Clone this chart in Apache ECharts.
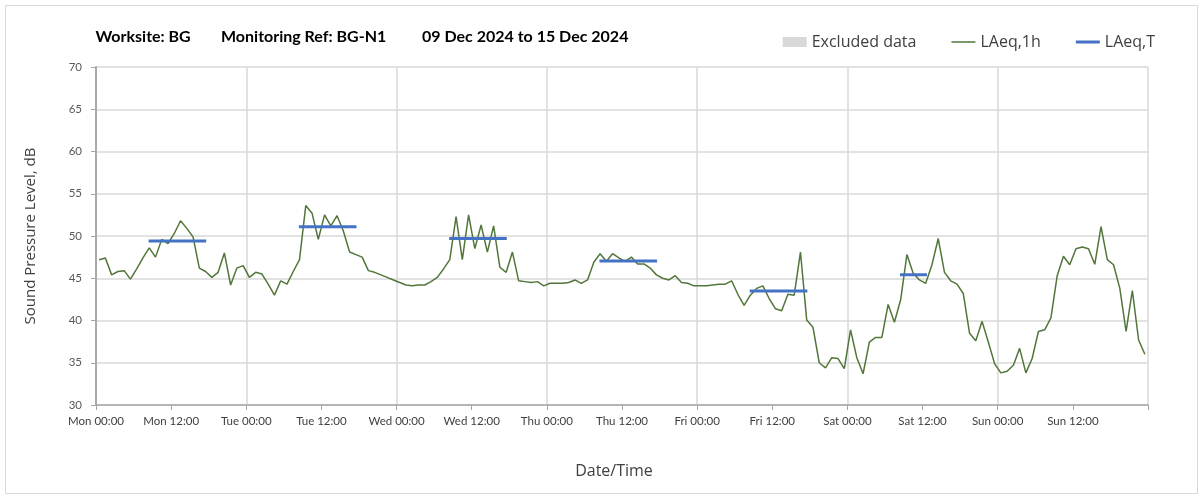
<!DOCTYPE html>
<html>
<head>
<meta charset="utf-8">
<script src="https://cdn.jsdelivr.net/npm/echarts@6/dist/echarts.min.js"></script>
<style>
html,body{margin:0;padding:0;background:#fff;}
#c{width:1203px;height:499px;}
</style>
</head>
<body>
<div id="c"></div>
<script>
// Hourly LAeq,1h values (dB), one array per day, hour 00..23
const MON = [47.2,47.4,45.4,45.8,45.9,44.9,46.1,47.4,48.6,47.5,49.6,49.1,50.3,51.8,50.9,49.9,46.2,45.8,45.1,45.7,48.0,44.2,46.2,46.5];
const TUE = [45.1,45.7,45.5,44.3,43.0,44.7,44.3,45.8,47.2,53.6,52.7,49.6,52.5,51.2,52.4,50.6,48.1,47.8,47.5,45.9,45.7,45.4,45.1,44.8];
const WED = [44.5,44.2,44.1,44.2,44.2,44.6,45.1,46.1,47.2,52.3,47.2,52.5,48.5,51.3,48.1,51.2,46.3,45.7,48.1,44.7,44.6,44.5,44.6,44.1];
const THU = [44.4,44.4,44.4,44.5,44.8,44.4,44.8,46.9,47.9,47.0,47.9,47.4,47.0,47.5,46.7,46.7,46.2,45.4,45.0,44.8,45.3,44.5,44.4,44.1];
const FRI = [44.1,44.1,44.2,44.3,44.3,44.7,43.1,41.8,43.0,43.8,44.1,42.6,41.4,41.15,43.1,43.0,48.1,40.05,39.2,35.0,34.4,35.6,35.5,34.3];
const SAT = [38.9,35.6,33.7,37.45,38.0,38.0,41.9,39.8,42.45,47.8,45.6,44.8,44.4,46.6,49.7,45.7,44.7,44.3,43.2,38.5,37.6,39.9,37.45,34.9];
const SUN = [33.8,34.0,34.7,36.7,33.8,35.5,38.7,38.9,40.3,45.3,47.6,46.6,48.5,48.7,48.5,46.65,51.1,47.2,46.6,43.8,38.7,43.55,37.7,36.0];

// LAeq,T periods: [start hour of week, end hour of week, level dB]
const LAEQ_T = [
  [8.4, 17.6, 49.4],
  [32.4, 41.6, 51.1],
  [56.4, 65.6, 49.7],
  [80.4, 89.6, 47.05],
  [104.4, 113.6, 43.5],
  [128.4, 132.7, 45.4]
];

// X tick labels every 12 h
const X_LABELS = ['Mon 00:00','Mon 12:00','Tue 00:00','Tue 12:00','Wed 00:00','Wed 12:00','Thu 00:00','Thu 12:00','Fri 00:00','Fri 12:00','Sat 00:00','Sat 12:00','Sun 00:00','Sun 12:00',''];

// Title parts
const TITLE_PARTS = ['Worksite: BG', 'Monitoring Ref: BG-N1', '09 Dec 2024 to 15 Dec 2024'];

const hourly = [].concat(MON, TUE, WED, THU, FRI, SAT, SUN);
const lineData = hourly.map((v, i) => [i + 0.5, v]);

const FONT = 'Lato, "Open Sans", sans-serif';
const FONT2 = '"Open Sans", Lato, sans-serif';
const GREEN = '#52763a';
const BLUE = '#4472c4';

// layout: left x of each title part (pixels)
const titleX = [95.5, 221, 422];
const titleGraphics = TITLE_PARTS.map((w, i) => ({
  type: 'text', left: titleX[i], top: 28.5,
  style: { text: w, font: 'bold 16px ' + FONT, fill: '#000' }
}));

const series = [
  {
    name: 'Excluded data', type: 'bar', data: [], xAxisIndex: 0, yAxisIndex: 0,
    itemStyle: { color: '#d9d9d9' }
  },
  {
    name: 'LAeq,1h', type: 'line', data: lineData, xAxisIndex: 0, yAxisIndex: 0,
    symbol: 'none', showSymbol: false, z: 3,
    lineStyle: { color: GREEN, width: 1.5 }, itemStyle: { color: GREEN }
  }
];
LAEQ_T.forEach(p => {
  series.push({
    name: 'LAeq,T', type: 'line', xAxisIndex: 0, yAxisIndex: 0,
    data: [[p[0], p[2]], [p[1], p[2]]],
    symbol: 'none', showSymbol: false, z: 4,
    lineStyle: { color: BLUE, width: 3 }, itemStyle: { color: BLUE }
  });
});

const chart = echarts.init(document.getElementById('c'), null, { renderer: 'canvas' });
chart.setOption({
  backgroundColor: '#fff',
  animation: false,
  textStyle: { fontFamily: FONT },
  grid: { left: 96, right: 55, top: 67, bottom: 94, containLabel: false },
  legend: {
    right: 43, top: 29,
    itemWidth: 24, itemHeight: 10, itemGap: 35,
    symbolKeepAspect: true,
    textStyle: { fontFamily: FONT2, fontSize: 16, color: '#404040' },
    data: [
      { name: 'Excluded data', icon: 'rect' },
      { name: 'LAeq,1h', icon: 'path://M0,0H16V1H0Z' },
      { name: 'LAeq,T', icon: 'path://M0,0H8V1H0Z' }
    ]
  },
  graphic: [
    { type: 'rect', shape: { x: 5.5, y: 5.5, width: 1192, height: 488 }, style: { fill: 'none', stroke: '#d9d9d9', lineWidth: 1 }, silent: true }
  ].concat(titleGraphics),
  xAxis: [
    {
      type: 'value', min: 0, max: 168, interval: 12,
      name: 'Date/Time', nameLocation: 'middle', nameGap: 58,
      nameTextStyle: { fontFamily: FONT2, fontSize: 16, color: '#404040', padding: [0, 16, 0, 0] },
      axisLine: { show: true, lineStyle: { color: '#a6a6a6', width: 1.5 } },
      axisTick: { show: true, length: 5, lineStyle: { color: '#a6a6a6' } },
      axisLabel: {
        fontFamily: FONT, fontSize: 11.5, color: '#404040', margin: 10,
        formatter: v => X_LABELS[Math.round(v / 12)] || ''
      },
      splitLine: { show: false }
    },
    {
      type: 'value', min: 0, max: 168, interval: 24, position: 'bottom',
      axisLine: { show: false }, axisTick: { show: false }, axisLabel: { show: false },
      splitLine: { show: true, lineStyle: { color: '#d9d9d9', width: 1.5 } }
    }
  ],
  yAxis: [
    {
      type: 'value', min: 30, max: 70, interval: 5,
      name: 'Sound Pressure Level, dB', nameLocation: 'middle', nameGap: 58,
      nameTextStyle: { fontFamily: FONT2, fontSize: 15, color: '#404040' },
      axisLine: { show: true, lineStyle: { color: '#a6a6a6', width: 1.5 } },
      axisTick: { show: true, length: 5, lineStyle: { color: '#a6a6a6' } },
      axisLabel: { fontFamily: FONT, fontSize: 11.5, color: '#595959', margin: 14 },
      splitLine: { show: true, lineStyle: { color: '#d9d9d9', width: 1.5 } }
    },
    {
      type: 'value', min: 30, max: 70, interval: 5, position: 'right',
      axisLine: { show: true, lineStyle: { color: '#a6a6a6', width: 1.5 } },
      axisTick: { show: false }, axisLabel: { show: false }, splitLine: { show: false }
    }
  ],
  series: series
});
</script>
</body>
</html>
